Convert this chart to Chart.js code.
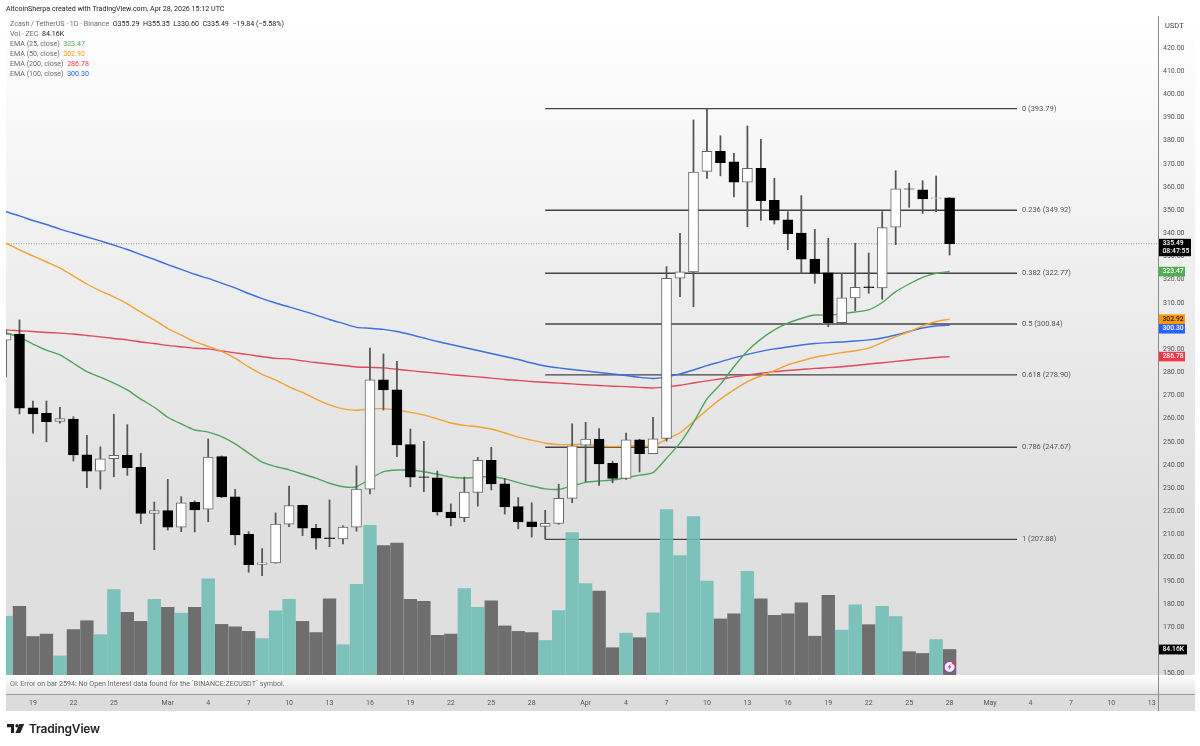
<!DOCTYPE html>
<html lang="en">
<head>
<meta charset="UTF-8">
<title>ZECUSDT 1D</title>
<script src="https://cdn.jsdelivr.net/npm/chart.js"></script>
<style>
  html, body { margin: 0; padding: 0; background: #fff; }
  #wrap { position: relative; width: 1200px; height: 746px; overflow: hidden; font-family: Roboto, sans-serif; }
  canvas { position: absolute; left: 0; top: 0; }
  .txt { position: absolute; white-space: pre; font-size: 7.1px; line-height: 10px; color: #6a6a6a; }
  .dark { color: #222; }
  #logo { position: absolute; left: 7px; top: 721px; }
  #logoText { position: absolute; left: 29px; top: 720px; font: 600 12px/17px Inter, sans-serif; color: #222; letter-spacing: -0.2px; }
</style>
</head>
<body>
<div id="wrap">
  <canvas id="chart" width="1200" height="746"></canvas>
  <div class="txt dark" style="left:6px;top:4px">AltcoinSherpa created with TradingView.com, Apr 28, 2026 15:12 UTC</div>
  <div class="txt" style="left:10px;top:19px">Zcash / TetherUS · 1D · Binance  <span class="dark">O355.29  H355.35  L330.60  C335.49  −19.84 (−5.58%)</span></div>
  <div class="txt" style="left:10px;top:29px">Vol · ZEC  <span class="dark">84.16K</span></div>
  <div class="txt" style="left:10px;top:39px">EMA (25, close)  <span style="color:#4caf50">323.47</span></div>
  <div class="txt" style="left:10px;top:49px">EMA (50, close)  <span style="color:#ff9800">302.92</span></div>
  <div class="txt" style="left:10px;top:59px">EMA (200, close)  <span style="color:#f23645">286.78</span></div>
  <div class="txt" style="left:10px;top:69px">EMA (100, close)  <span style="color:#2962ff">300.30</span></div>
  <div class="txt" style="left:10px;top:679px">OI: Error on bar 2594: No Open Interest data found for the `BINANCE:ZECUSDT` symbol.</div>
  <svg id="logo" width="17.7" height="14.2" viewBox="0 0 20 16">
    <path d="M0 3.5h8v10H4.5V7H0z M14 3.5h5.5L15 13.5H9.5z" fill="#222"/>
    <circle cx="11.3" cy="5.4" r="1.9" fill="#222"/>
  </svg>
  <div id="logoText">TradingView</div>
</div>

<script>
// candles, oldest first. day 0 is Feb 19, first entry is day -2
const firstDay = -2;
const opens = [293.9,296.5,264.7,262.3,258.8,259.8,244.4,237.3,242.7,244.2,239.0,219.1,220.3,213.1,223.9,220.9,243.6,226.3,210.1,197.1,197.7,214.4,222.6,212.7,208.6,208.1,213.2,229.5,276.7,272.4,248.8,234.9,234.4,219.7,217.2,228.2,242.0,231.9,222.0,215.5,213.5,214.8,225.6,248.5,251.2,240.7,234.2,250.9,244.9,251.5,320.6,323.3,366.7,375.4,370.8,362.1,368.0,354.2,345.8,340.1,328.9,322.9,301.4,312.1,316.9,316.4,342.6,359.2,358.7,355.0,355.29];
const highs = [298.3,302.6,267.6,267.6,264.9,260.8,252.8,247.8,261.9,257.4,245.0,224.0,233.8,226.3,224.5,251.2,243.9,229.5,211.2,203.9,219.3,230.9,222.7,214.4,224.9,213.7,239.6,290.4,287.9,284.7,255.5,250.2,237.4,223.2,234.8,243.3,247.6,234.2,225.9,223.7,220.4,231.7,257.8,258.4,255.7,241.6,253.8,251.1,260.6,325.6,340.0,388.9,393.79,382.1,374.5,386.3,380.6,363.7,349.3,356.2,341.7,337.8,322.7,335.7,331.5,349.3,367.0,361.6,362.7,364.7,355.35];
const lows = [278.1,262.0,253.7,250.0,258.0,241.7,230.2,229.6,234.9,235.5,214.7,203.4,211.9,211.2,211.1,215.5,225.9,205.5,193.7,192.2,197.6,213.4,209.5,203.7,204.7,205.9,211.4,227.5,263.7,243.6,230.6,228.5,218.3,213.7,215.5,222.2,229.2,218.8,212.4,208.9,208.0,214.4,223.7,232.8,231.2,232.3,233.8,237.0,244.9,250.3,312.6,308.3,363.7,364.8,355.7,342.8,345.6,344.0,332.9,322.7,318.4,299.7,301.1,306.6,314.1,311.5,335.1,351.2,348.6,349.3,330.60];
const closes = [296.5,264.5,262.0,258.7,260.0,244.3,237.3,242.7,244.2,238.8,219.1,220.3,213.1,223.7,220.6,243.4,226.2,209.8,197.0,197.8,214.5,222.5,212.7,208.4,208.2,213.2,229.6,276.7,272.4,248.6,234.7,234.6,219.7,217.2,228.3,242.0,231.8,221.9,215.4,213.4,214.8,225.6,248.3,251.2,240.5,234.2,250.9,244.9,251.3,320.6,323.4,366.4,375.4,370.5,362.1,368.0,354.1,345.7,339.8,328.8,322.7,301.4,312.1,316.7,316.5,342.4,359.2,359.0,354.8,355.3,335.49];
const volumes = [194,227,127,135,63,150,179,133,282,207,177,250,223,204,223,317,167,159,144,120,212,250,177,140,251,100,299,494,427,435,250,243,131,135,285,223,245,162,144,140,114,213,470,302,277,90,138,123,205,546,394,523,310,185,202,342,251,197,202,238,128,263,148,232,166,227,193,77,71,117,84.16];

const ema25 = [297.1,295.1,292.2,289.6,287.5,283.9,280.3,277.9,275.3,272.4,268.4,264.9,260.6,257.7,255.1,254.2,252.2,249.1,245.1,241.2,239.3,237.9,236.1,234.3,232.1,230.6,230.6,234.0,237.1,237.8,237.7,237.1,236.0,234.8,234.4,234.7,235.0,234.0,232.4,230.9,229.7,229.5,230.9,232.5,233.1,233.5,234.5,235.6,236.7,242.9,249.4,258.3,268.5,274.8,282.4,289.2,294.3,298.3,301.2,303.2,304.7,304.6,305.2,306.0,306.9,310.1,314.8,318.1,321.0,322.7,323.47];
const ema50 = [335.7,332.8,330.2,327.6,325.0,321.6,318.1,315.1,312.5,309.5,306.0,302.6,298.9,296.1,293.2,291.2,289.0,286.0,282.3,279.1,276.7,273.7,271.3,268.4,265.9,264.2,263.6,264.2,264.3,263.7,262.7,261.6,259.9,258.1,257.1,256.5,255.5,253.8,252.0,250.7,249.4,248.8,248.8,248.9,248.2,247.9,248.2,248.3,248.2,251.1,253.9,258.7,263.7,268.4,272.4,276.0,278.4,280.7,283.2,284.9,286.5,287.5,288.5,289.3,290.4,292.8,295.4,297.5,300.0,301.9,302.92];
const ema100 = [349.3,347.5,345.5,343.8,341.8,340.1,338.4,336.7,334.9,333.0,330.8,328.7,326.5,324.4,322.3,320.5,318.5,316.4,314.0,311.8,309.9,308.2,306.5,304.7,302.8,301.1,299.4,299.0,298.5,297.6,296.3,294.8,293.3,292.0,290.7,289.4,288.1,286.8,285.5,284.0,282.7,281.9,281.2,280.6,279.9,279.3,278.6,277.8,277.3,278.0,279.3,281.0,282.9,284.5,286.2,287.7,289.0,290.1,290.9,291.8,292.4,292.8,293.1,293.5,294.0,294.8,296.1,297.6,299.1,300.0,300.30];
const ema200 = [298.3,297.9,297.6,297.2,296.9,296.5,295.9,295.3,294.6,294.0,293.1,292.4,291.6,291.0,290.4,290.1,289.2,288.4,287.6,286.7,286.0,285.8,284.9,284.2,283.6,282.9,282.3,282.1,281.9,281.3,280.7,280.1,279.6,279.0,278.5,278.0,277.5,276.9,276.5,276.0,275.7,275.3,275.0,274.6,274.3,274.0,273.8,273.5,273.2,273.7,274.4,275.4,276.3,277.1,278.0,278.8,279.6,280.3,280.8,281.2,281.7,282.0,282.4,282.9,283.6,284.1,284.7,285.3,285.9,286.4,286.78];

// fib retracement drawn from Mar 29 out to May 3
const fibLevels = ['0','0.236','0.382','0.5','0.618','0.786','1'];
const fibValues = [393.79,349.92,322.77,300.84,278.90,247.67,207.88];
const fibStartDay = 38;
const fibEndDay = 73;

// time axis labels
const tickDays = [0,3,6,10,13,16,19,22,25,28,31,34,37,41,44,47,50,53,56,59,62,65,68,71,74,77,80,83];
const tickLabels = ['19','22','25','Mar','4','7','10','13','16','19','22','25','28','Apr','4','7','10','13','16','19','22','25','28','May','4','7','10','13'];

const priceTicks = [150,160,170,180,190,200,210,220,230,240,250,260,270,280,290,300,310,320,330,340,350,360,370,380,390,400,410,420];
const lastClose = 335.49;
const countdown = '08:47:55';

const dayMin = -2;
const dayMax = 83.46;
const priceMin = 149.35;
const priceMax = 433.77;
const volMax = 2175;

const days = opens.map((_, i) => i + firstDay);
const pairs = (ys) => ys.map((y, i) => ({ x: days[i], y: y }));
const isUp = (i) => closes[i] >= opens[i];

function lineSet(values, color, order) {
  return {
    type: 'line', data: pairs(values), borderColor: color, borderWidth: 1.4,
    pointRadius: 0, tension: 0.2, yAxisID: 'y', order: order
  };
}

function barSet(values, colors, borders, thickness, axis, order, borderWidth) {
  return {
    type: 'bar', data: values, backgroundColor: colors, borderColor: borders,
    borderWidth: borderWidth, borderSkipped: false, barThickness: thickness,
    grouped: false, yAxisID: axis, order: order
  };
}

const fibSets = fibValues.map((v) => ({
  type: 'line',
  data: [{ x: fibStartDay, y: v }, { x: fibEndDay, y: v }],
  borderColor: '#444', borderWidth: 1.4, pointRadius: 0, yAxisID: 'y', order: 10
}));

const lastLine = {
  type: 'line',
  data: [{ x: dayMin, y: lastClose }, { x: dayMax, y: lastClose }],
  borderColor: '#9a9a9a', borderWidth: 1, borderDash: [1, 1.5], pointRadius: 0, yAxisID: 'y', order: 9
};

const datasets = [
  ...fibSets,
  lastLine,
  barSet(pairs(volumes), days.map((_, i) => isUp(i) ? 'rgba(108,188,180,0.86)' : '#6e6e6e'), 'rgba(0,0,0,0)', 12.7, 'vol', 8, 0),
  lineSet(ema200, '#e0485c', 7),
  lineSet(ema100, '#3f6ce0', 6),
  lineSet(ema50, '#f5a030', 5),
  lineSet(ema25, '#4fa65a', 4),
  barSet(days.map((d, i) => ({ x: d, y: [lows[i], highs[i]] })), '#555', '#555', 1.1, 'y', 3, 0),
  barSet(days.map((d, i) => ({ x: d, y: [opens[i], closes[i]] })),
    days.map((_, i) => isUp(i) ? '#ffffff' : '#000000'),
    days.map((_, i) => isUp(i) ? '#666666' : '#000000'), 10, 'y', 2, 1)
];

// panel backgrounds, behind everything
const panels = {
  id: 'panels',
  beforeDraw(chart) {
    const c = chart.ctx;
    c.save();
    c.fillStyle = '#fff';
    c.fillRect(0, 0, 1200, 746);
    const g = c.createLinearGradient(0, 16, 0, 675);
    g.addColorStop(0, '#ffffff');
    g.addColorStop(0.35, '#f0f0f0');
    g.addColorStop(0.75, '#e0e0e0');
    g.addColorStop(1, '#dedede');
    c.fillStyle = g;
    c.fillRect(6, 16, 1189, 659);
    const o = c.createLinearGradient(0, 675, 0, 694);
    o.addColorStop(0, '#ffffff');
    o.addColorStop(1, '#e4e4e4');
    c.fillStyle = o;
    c.fillRect(6, 675, 1189, 19);
    c.fillStyle = '#dcdcdc';
    c.fillRect(6, 694, 1189, 17);
    c.fillStyle = '#9a9a9a';
    c.fillRect(6, 694, 1189, 1);
    c.fillStyle = '#8a8a8a';
    c.fillRect(1158, 16, 1, 695);
    c.restore();
  }
};

function tag(c, y, h, w, color, textColor, lines) {
  c.fillStyle = color;
  c.fillRect(1159, y - h / 2, w, h);
  c.fillStyle = textColor;
  c.font = '500 6.8px Roboto, sans-serif';
  c.textAlign = 'left';
  c.textBaseline = 'middle';
  lines.forEach((t, i) => c.fillText(t, 1162.5, y - (lines.length - 1) * 4.2 + i * 8.4));
}

// fib labels, price tags, alert icon
const overlays = {
  id: 'overlays',
  afterDraw(chart) {
    const c = chart.ctx;
    const y = chart.scales.y;
    const x = chart.scales.x;
    const vol = chart.scales.vol;
    c.save();
    c.font = '7.5px Roboto, sans-serif';
    c.fillStyle = '#555';
    c.textAlign = 'left';
    c.textBaseline = 'middle';
    fibValues.forEach((v, i) => {
      c.fillText(fibLevels[i] + ' (' + v.toFixed(2) + ')', x.getPixelForValue(fibEndDay) + 5, y.getPixelForValue(v));
    });
    c.fillStyle = '#444';
    c.font = '7.5px Roboto, sans-serif';
    c.fillText('USDT', 1165, 26);

    const last = days.length - 1;
    const orangeY = y.getPixelForValue(ema50[last]);
    tag(c, y.getPixelForValue(ema25[last]), 9.6, 26, '#4caf50', '#fff', [ema25[last].toFixed(2)]);
    tag(c, orangeY, 9.6, 26, '#ff9800', '#222', [ema50[last].toFixed(2)]);
    // blue tag gets pushed below the orange one so both stay readable
    tag(c, orangeY + 9.6, 9.6, 26, '#2962ff', '#fff', [ema100[last].toFixed(2)]);
    tag(c, y.getPixelForValue(ema200[last]), 9.6, 26, '#f23645', '#fff', [ema200[last].toFixed(2)]);
    tag(c, y.getPixelForValue(lastClose) + 3.8, 17.4, 32, '#000', '#fff', [lastClose.toFixed(2), countdown]);
    tag(c, vol.getPixelForValue(volumes[last]), 9.8, 28, '#000', '#fff', [volumes[last].toFixed(2) + 'K']);

    // small purple alert badge on the last volume bar
    const ix = x.getPixelForValue(days[last]);
    c.beginPath();
    c.arc(ix, 667, 5.6, 0, Math.PI * 2);
    c.fillStyle = '#f4eef8';
    c.fill();
    c.lineWidth = 1.2;
    c.strokeStyle = '#8e44ad';
    c.stroke();
    c.beginPath();
    c.moveTo(ix + 1.2, 663.5);
    c.lineTo(ix - 1.8, 667.5);
    c.lineTo(ix, 667.5);
    c.lineTo(ix - 1.2, 670.5);
    c.lineTo(ix + 1.8, 666.5);
    c.lineTo(ix, 666.5);
    c.closePath();
    c.fillStyle = '#8e44ad';
    c.fill();
    c.beginPath();
    c.arc(ix + 4, 663, 1.6, 0, Math.PI * 2);
    c.fillStyle = '#f23645';
    c.fill();
    c.restore();
  }
};

new Chart(document.getElementById('chart').getContext('2d'), {
  data: { datasets: datasets },
  plugins: [panels, overlays],
  options: {
    responsive: false,
    animation: false,
    layout: { padding: { left: 6, top: 16, right: 0, bottom: 0 } },
    plugins: { legend: { display: false }, tooltip: { enabled: false } },
    scales: {
      x: {
        type: 'linear', min: dayMin, max: dayMax, offset: false,
        grid: { display: false, drawTicks: false }, border: { display: false },
        afterFit(s) { s.height = 71; },
        afterBuildTicks(s) { s.ticks = tickDays.map((d) => ({ value: d })); },
        ticks: {
          autoSkip: false, maxRotation: 0, padding: 24, color: '#555',
          font: { family: 'Roboto, sans-serif', size: 7 },
          callback: (v) => tickLabels[tickDays.indexOf(v)]
        }
      },
      y: {
        position: 'right', min: priceMin, max: priceMax,
        grid: { display: false, drawTicks: false }, border: { display: false },
        afterFit(s) { s.width = 42; },
        afterBuildTicks(s) { s.ticks = priceTicks.map((p) => ({ value: p })); },
        ticks: {
          autoSkip: false, padding: 5, color: '#555',
          font: { family: 'Roboto, sans-serif', size: 7 },
          callback: (v) => v.toFixed(2)
        }
      },
      vol: { display: false, min: 0, max: volMax }
    }
  }
});
</script>
</body>
</html>
